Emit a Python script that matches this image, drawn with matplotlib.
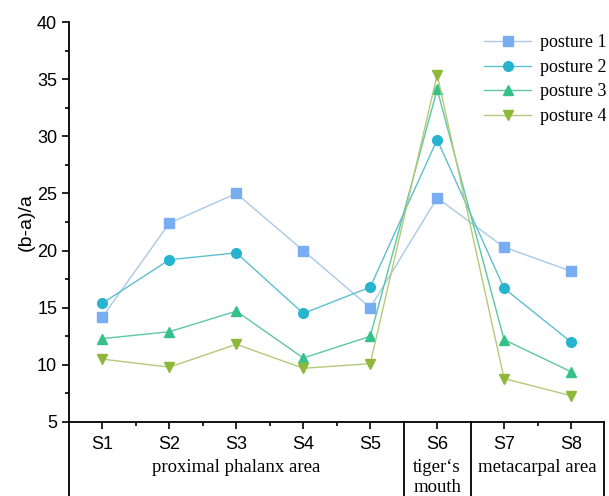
import matplotlib.pyplot as plt
from matplotlib.transforms import blended_transform_factory

# Data
sites = ['S1', 'S2', 'S3', 'S4', 'S5', 'S6', 'S7', 'S8']
posture1 = [14.2, 22.4, 25.0, 20.0, 15.0, 24.6, 20.3, 18.2]
posture2 = [15.4, 19.2, 19.8, 14.5, 16.8, 29.7, 16.7, 12.0]
posture3 = [12.3, 12.9, 14.7, 10.6, 12.5, 34.1, 12.2, 9.4]
posture4 = [10.5, 9.8, 11.8, 9.7, 10.1, 35.4, 8.8, 7.3]
labels = ['posture 1', 'posture 2', 'posture 3', 'posture 4']

# region groups: (label, centre position)
regions = [('proximal phalanx area', 3),
           ('tiger\u2018s\nmouth', 6),
           ('metacarpal area', 7.5)]

plt.rcParams['font.family'] = ['Liberation Sans', 'DejaVu Sans']

fig = plt.figure(figsize=(6.09, 4.96), dpi=100)
ax = fig.add_axes([0.1133, 0.1492, 0.8793, 0.8064])

x = list(range(1, len(sites) + 1))
series = [posture1, posture2, posture3, posture4]
markers = ['s', 'o', '^', 'v']
mcolors = ['#78adf2', '#27b4cf', '#35c28a', '#8db83a']
lcolors = ['#a9c9e6', '#5cbfcf', '#5cc7a6', '#b5c97a']
msizes = [6.5, 7, 7.5, 7.5]

for vals, m, mc, lc, ms, lab in zip(series, markers, mcolors, lcolors, msizes, labels):
    ax.plot(x, vals, color=lc, linewidth=1.0, marker=m, markersize=ms,
            markerfacecolor=mc, markeredgecolor=mc, label=lab)

ax.set_xlim(0.5, 8.5)
ax.set_ylim(5, 40)
ax.set_xticks(x)
ax.set_xticklabels(sites)
ax.set_xticks([1.5, 2.5, 3.5, 4.5, 7.5], minor=True)
ax.set_yticks(range(5, 41, 5))
ax.set_yticks([7.5 + 5 * i for i in range(7)], minor=True)
ax.tick_params(axis='both', which='major', length=5, width=1.2, labelsize=13)
ax.tick_params(axis='both', which='minor', length=3, width=1.2)
ax.tick_params(axis='x', pad=5)
ax.set_ylabel('(b-a)/a', fontsize=14, labelpad=2)

ax.spines['top'].set_visible(False)
ax.spines['right'].set_visible(False)
ax.spines['left'].set_linewidth(1.3)
ax.spines['bottom'].set_linewidth(1.3)

# table below the x-axis
trans = blended_transform_factory(ax.transData, ax.transAxes)
for xv in [0.5, 5.5, 6.5, 8.5]:
    ax.plot([xv, xv], [0, -0.2], transform=trans, color='black',
            linewidth=1.3, clip_on=False)

for name, cx in regions:
    ax.text(cx, -0.092, name, transform=trans, ha='center', va='top',
            fontsize=13.5, family=['Liberation Serif', 'DejaVu Serif'],
            linespacing=1.22)

leg = ax.legend(loc='upper right', bbox_to_anchor=(1.035, 1.01), frameon=False,
                prop={'family': 'Liberation Serif', 'size': 13},
                handlelength=2.6, handletextpad=0.5, labelspacing=0.42)

fig.savefig('out.png', dpi=100)
